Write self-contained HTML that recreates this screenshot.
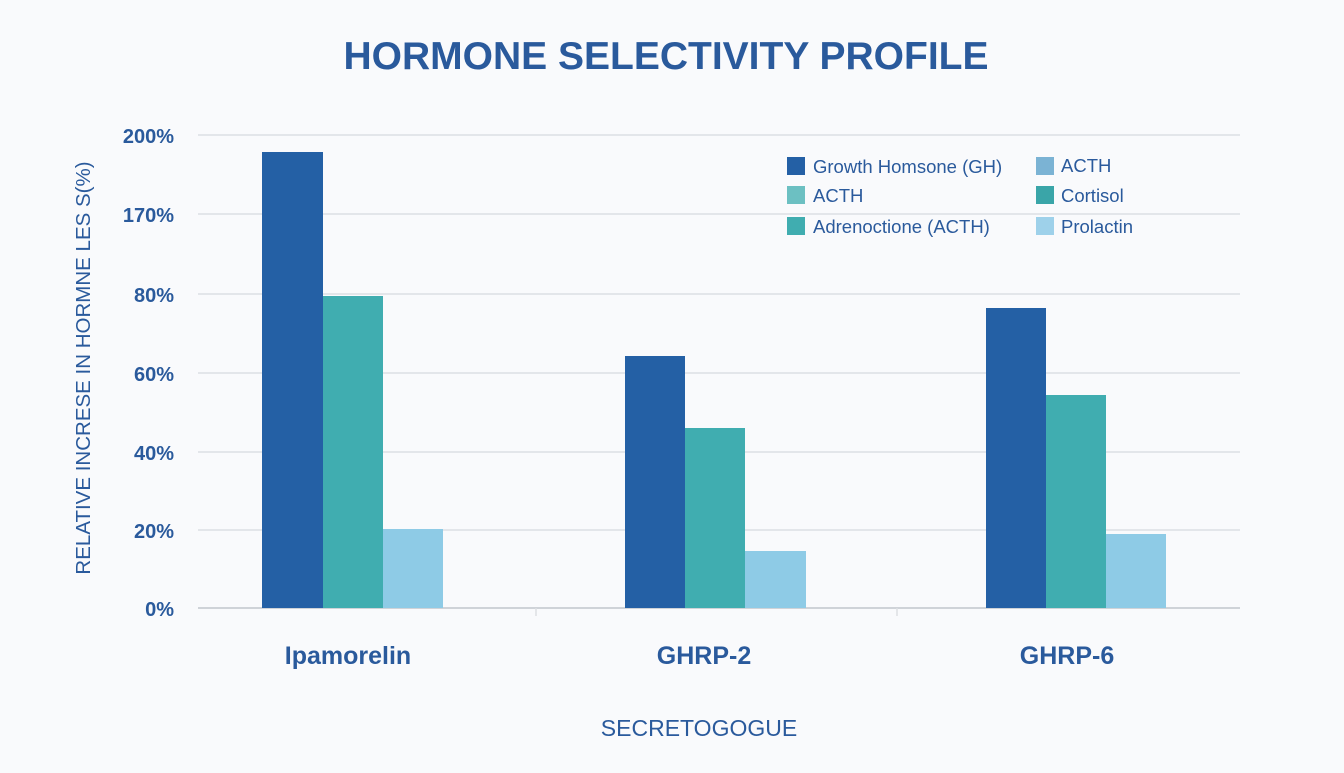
<!DOCTYPE html>
<html><head><meta charset="utf-8"><style>
html,body{margin:0;padding:0;background:#f9fafc;}
svg text{font-family:"Liberation Sans",sans-serif;}
</style></head><body>
<svg width="1344" height="768" viewBox="0 0 1344 768" xmlns="http://www.w3.org/2000/svg">
<rect width="1344" height="768" fill="#f9fafc"/>
<text x="666" y="69" text-anchor="middle" font-size="39" font-weight="bold" fill="#2a5a9c">HORMONE SELECTIVITY PROFILE</text>
<g stroke="#dcdfe3" stroke-width="1.5">
<line x1="198" y1="135" x2="1240" y2="135"/>
<line x1="198" y1="214" x2="1240" y2="214"/>
<line x1="198" y1="294" x2="1240" y2="294"/>
<line x1="198" y1="373" x2="1240" y2="373"/>
<line x1="198" y1="452" x2="1240" y2="452"/>
<line x1="198" y1="530" x2="1240" y2="530"/>
<line x1="198" y1="608" x2="1240" y2="608" stroke="#cfd3d8" stroke-width="2"/>
<line x1="536" y1="608" x2="536" y2="616"/>
<line x1="897" y1="608" x2="897" y2="616"/>
</g>
<g font-size="20" font-weight="bold" fill="#2a5a9c" text-anchor="end">
<text x="174" y="143">200%</text>
<text x="174" y="222">170%</text>
<text x="174" y="302">80%</text>
<text x="174" y="381">60%</text>
<text x="174" y="460">40%</text>
<text x="174" y="538">20%</text>
<text x="174" y="616">0%</text>
</g>
<text transform="translate(90,368) rotate(-90)" text-anchor="middle" font-size="20.5" fill="#2a5a9c">RELATIVE INCRESE IN HORMNE LES S(%)</text>
<rect x="262" y="152" width="61" height="456" fill="#2460a5"/>
<rect x="323" y="296" width="60" height="312" fill="#40adb0"/>
<rect x="383" y="529" width="60" height="79" fill="#8ecbe6"/>
<rect x="625" y="356" width="60" height="252" fill="#2460a5"/>
<rect x="685" y="428" width="60" height="180" fill="#40adb0"/>
<rect x="745" y="551" width="61" height="57" fill="#8ecbe6"/>
<rect x="986" y="308" width="60" height="300" fill="#2460a5"/>
<rect x="1046" y="395" width="60" height="213" fill="#40adb0"/>
<rect x="1106" y="534" width="60" height="74" fill="#8ecbe6"/>
<g font-size="25" font-weight="bold" fill="#2a5a9c" text-anchor="middle">
<text x="348" y="664">Ipamorelin</text>
<text x="704" y="664">GHRP-2</text>
<text x="1067" y="664">GHRP-6</text>
</g>
<text x="699" y="736" text-anchor="middle" font-size="23" fill="#2a5a9c">SECRETOGOGUE</text>
<rect x="787" y="157" width="18" height="18" fill="#2460a5"/>
<rect x="787" y="186" width="18" height="18" fill="#6cc0c2"/>
<rect x="787" y="217" width="18" height="18" fill="#40adb0"/>
<rect x="1036" y="157" width="18" height="18" fill="#7bb3d4"/>
<rect x="1036" y="186" width="18" height="18" fill="#3aa5a8"/>
<rect x="1036" y="217" width="18" height="18" fill="#9ed1ea"/>
<g font-size="18.5" fill="#2a5a9c">
<text x="813" y="173">Growth Homsone (GH)</text>
<text x="813" y="202">ACTH</text>
<text x="813" y="233">Adrenoctione (ACTH)</text>
<text x="1061" y="172">ACTH</text>
<text x="1061" y="202">Cortisol</text>
<text x="1061" y="233">Prolactin</text>
</g>
</svg>
</body></html>
